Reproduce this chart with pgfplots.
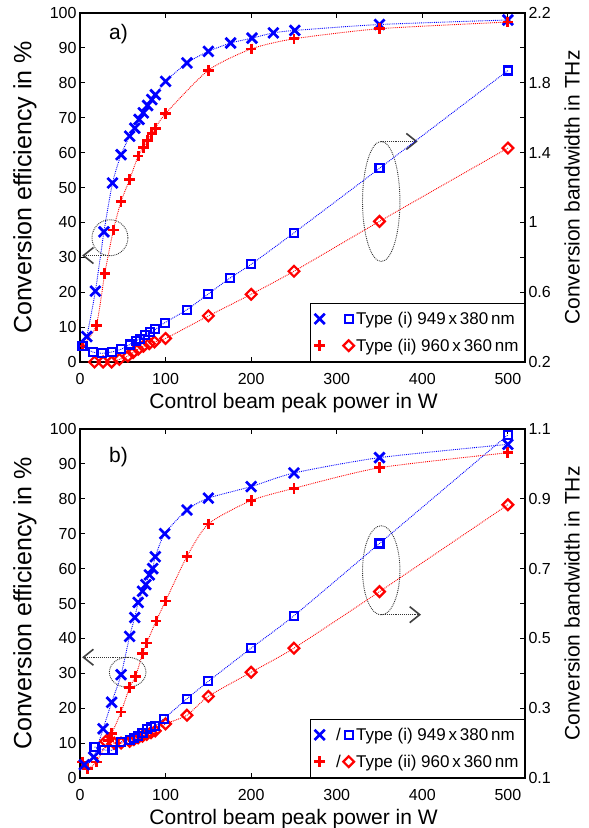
\documentclass[border=0pt]{standalone}
\usepackage{fontspec}
\setmainfont{Liberation Sans}
\usepackage{pgfplots}
\pgfplotsset{compat=1.18}

\tikzset{
 dotann/.style={densely dotted, line width=0.9pt, black!80},
 headann/.style={line width=1.6pt, black!75},
}
\pgfplotsset{
 base/.style={scale only axis, width=445pt, height=349pt, xmin=0, xmax=520,
   /pgf/number format/assume math mode=true,
   tick label style={font=\fontsize{16}{18}\selectfont},
   axis line style={line width=1.8pt},
   major tick length=5pt, tick style={line width=1pt, black}, tick align=inside},
 prim/.style={base, ymin=0, ymax=100, ytick={0,10,...,100}, xtick={0,100,...,500},
   ytick pos=left, xticklabel style={yshift=-8pt},
   xlabel={Control beam peak power in W}, ylabel={Conversion efficiency in \%},
   xlabel style={font=\fontsize{21}{24}\selectfont, at={(axis description cs:0.48,-0.118)}, anchor=center},
   ylabel style={font=\fontsize{25}{28}\selectfont, at={(axis description cs:-0.124,0.5)}, anchor=center, rotate=0}},
 sec/.style={base, axis y line*=right, axis x line=none, ytick pos=right,
   ylabel={Conversion bandwidth in THz},
   ylabel style={font=\fontsize{21}{24}\selectfont, at={(axis description cs:1.106,0.5)}, anchor=center, rotate=0},
   legend style={at={(1,0)}, anchor=south east, draw=black, line width=0.8pt, fill=white,
     font=\fontsize{17}{20}\selectfont, row sep=9pt, inner xsep=4pt, inner ysep=7pt},
   legend cell align=left},
 bx/.style={blue, densely dotted, line width=0.9pt, smooth, tension=0.4, mark=x, mark size=7.2pt, mark options={solid, line width=2.7pt}},
 rp/.style={red, densely dotted, line width=0.9pt, smooth, tension=0.4, mark=+, mark size=5.3pt, mark options={solid, line width=2.8pt}},
 bs/.style={blue, densely dotted, line width=0.9pt, smooth, tension=0.4, mark=square, mark size=4pt, mark options={solid, line width=2.2pt}},
 rd/.style={red, densely dotted, line width=0.9pt, smooth, tension=0.4, mark=square, mark size=3.8pt, mark options={solid, line width=2.2pt, rotate=45}},
 legA/.style={legend image code/.code={
   \draw[blue, line width=2.7pt] plot[mark=x, mark size=7.2pt] coordinates {(0pt,0pt)};
   \draw[blue, line width=2.2pt] plot[mark=square, mark size=4pt] coordinates {(29pt,0pt)};}},
 legB/.style={legend image code/.code={
   \draw[red, line width=2.8pt] plot[mark=+, mark size=5.3pt] coordinates {(0pt,0pt)};
   \draw[red, line width=2.2pt] plot[mark=square, mark size=3.8pt, mark options={rotate=45}] coordinates {(29pt,0pt)};}},
 legC/.style={legend image code/.code={
   \draw[blue, line width=2.7pt] plot[mark=x, mark size=7.2pt] coordinates {(0pt,0pt)};
   \node[font=\fontsize{17}{20}\selectfont] at (14pt,0pt) {/};
   \draw[blue, line width=2.2pt] plot[mark=square, mark size=4pt] coordinates {(29pt,0pt)};}},
 legD/.style={legend image code/.code={
   \draw[red, line width=2.8pt] plot[mark=+, mark size=5.3pt] coordinates {(0pt,0pt)};
   \node[font=\fontsize{17}{20}\selectfont] at (14pt,0pt) {/};
   \draw[red, line width=2.2pt] plot[mark=square, mark size=3.8pt, mark options={rotate=45}] coordinates {(29pt,0pt)};}},
}

\begin{document}
\begin{tikzpicture}
\useasboundingbox (0,0) rectangle (589pt,828pt);

% ---------------- panel a ----------------
\begin{axis}[prim, at={(80pt,466pt)}, anchor=south west]
\addplot[bx] coordinates {(8,7.3)(18,20.3)(28,37.3)(38,51.3)(48,59.4)(58,64.7)(64,67)(69,69.5)(74,71.4)(79,73.5)(84,75.2)(88,76.6)(100,80.4)(125,85.7)(150,89)(176,91.4)(201,92.8)(226,94.3)(251,95)(350,96.7)(500,98)};
\addplot[rp] coordinates {(3,4.6)(19,10.5)(29,25.4)(39,37.8)(48,46)(58,52.3)(68,59)(74,61.5)(79,63.5)(84,65.5)(88,67)(100,71.2)(150,83.6)(200,89.7)(250,92.6)(350,95.5)(500,97.4)};
\node[font=\fontsize{21}{24}\selectfont] at (axis cs:45,94) {a)};
\draw[dotann] (axis cs:35,35.6) circle[radius=18pt];
\draw[dotann] (axis cs:35,30.5) -- (axis cs:4,30.5);
\draw[headann] (axis cs:4,30.5) ++(10pt,8pt) -- (axis cs:4,30.5) -- ++(10pt,-8pt);
\draw[dotann] (axis cs:352,46) ellipse [x radius=18.7pt, y radius=60pt];
\draw[dotann] (axis cs:352,63.2) -- (axis cs:393,63.2);
\draw[headann] (axis cs:393,63.2) ++(-10pt,8pt) -- (axis cs:393,63.2) -- ++(-10pt,-8pt);
\end{axis}
\begin{axis}[sec, at={(80pt,466pt)}, anchor=south west, ymin=0.2, ymax=2.2,
  ytick={0.2,0.4,0.6,0.8,1,1.2,1.4,1.6,1.8,2,2.2},
  yticklabels={0.2,,0.6,,1,,1.4,,1.8,,2.2}]
\addplot[rd, forget plot] coordinates {(17,0.2)(27,0.2)(37,0.2)(46,0.215)(56,0.234)(62,0.254)(68,0.273)(74,0.29)(81,0.305)(87,0.315)(100,0.335)(150,0.464)(200,0.588)(250,0.72)(350,1.006)(500,1.426)};
\addplot[bs, forget plot] coordinates {(3,0.29)(15,0.257)(26,0.25)(37,0.257)(48,0.273)(58,0.30)(65,0.32)(70,0.334)(76,0.353)(82,0.372)(88,0.387)(99,0.425)(125,0.50)(150,0.59)(175,0.68)(200,0.76)(250,0.94)(350,1.31)(500,1.87)};
\addlegendimage{legA}
\addlegendentry{Type (i) 949\,x\,380\,nm}
\addlegendimage{legB}
\addlegendentry{Type (ii) 960\,x\,360\,nm}
\end{axis}

% ---------------- panel b ----------------
\begin{axis}[prim, at={(80pt,50pt)}, anchor=south west]
\addplot[rp] coordinates {(3,4.6)(9,2.7)(19,4.6)(33,10.8)(37,12.7)(48,18.9)(58,26)(65,29.1)(73,35.6)(78,38.7)(89,45)(100,50.7)(125,63.5)(150,72.8)(200,79.5)(250,83)(350,88.9)(500,93.2)};
\addplot[bx] coordinates {(5,3.8)(16,6)(27,14.1)(37,21.7)(48,29.6)(58,40.6)(64,46)(68,50.3)(73,53.5)(77,55.4)(81,58.2)(85,60)(88,63.4)(99,70)(125,76.8)(150,80.2)(200,83.5)(250,87.4)(350,91.8)(500,95.6)};
\node[font=\fontsize{21}{24}\selectfont] at (axis cs:45,92) {b)};
\draw[dotann] (axis cs:55.7,30.3) ellipse [x radius=18.3pt, y radius=15pt];
\draw[dotann] (axis cs:55.7,34.6) -- (axis cs:4,34.6);
\draw[headann] (axis cs:4,34.6) ++(10pt,8pt) -- (axis cs:4,34.6) -- ++(10pt,-8pt);
\draw[dotann] (axis cs:352,59.5) ellipse [x radius=18.7pt, y radius=44.6pt];
\draw[dotann] (axis cs:352,46.8) -- (axis cs:397,46.8);
\draw[headann] (axis cs:397,46.8) ++(-10pt,8pt) -- (axis cs:397,46.8) -- ++(-10pt,-8pt);
\end{axis}
\begin{axis}[sec, at={(80pt,50pt)}, anchor=south west, ymin=0.1, ymax=1.1,
  ytick={0.1,0.2,0.3,0.4,0.5,0.6,0.7,0.8,0.9,1,1.1},
  yticklabels={0.1,,0.3,,0.5,,0.7,,0.9,,1.1}]
\addplot[rd, forget plot] coordinates {(30,0.205)(40,0.2)(48,0.2)(58,0.205)(63,0.21)(68,0.215)(73,0.22)(78,0.225)(83,0.23)(88,0.235)(100,0.255)(125,0.28)(150,0.334)(200,0.403)(250,0.472)(350,0.634)(500,0.883)};
\addplot[bs, forget plot] coordinates {(17,0.189)(28,0.181)(38,0.18)(48,0.203)(58,0.21)(63,0.215)(68,0.22)(73,0.23)(78,0.24)(83,0.245)(88,0.25)(98,0.27)(125,0.327)(150,0.377)(200,0.472)(250,0.565)(350,0.772)(500,1.083)};
\addlegendimage{legC}
\addlegendentry{Type (i) 949\,x\,380\,nm}
\addlegendimage{legD}
\addlegendentry{Type (ii) 960\,x\,360\,nm}
\end{axis}
\end{tikzpicture}
\end{document}
